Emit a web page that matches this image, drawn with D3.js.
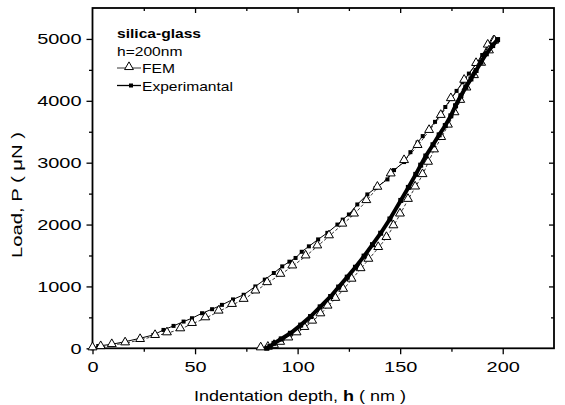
<!DOCTYPE html>
<html>
<head>
<meta charset="utf-8">
<script src="https://cdn.jsdelivr.net/npm/d3@7"></script>
<style>
  body { margin: 0; background: #fff; }
  svg text { font-family: "Liberation Sans", Arial, sans-serif; fill: #000; }
</style>
</head>
<body>
<div id="chart"></div>
<script>
// experimental loading branch (h in nm, P in uN)
var expLoadH = [0, 2.8, 9.4, 15.9, 23.2, 29.7, 34.6, 39.5, 44.4, 48.5, 53.4, 58.3, 63.1, 68.5, 73.7, 79.4, 84, 88.4, 92.5, 96, 99, 102, 105.5, 110, 114.5, 119.4, 122, 125, 129.1, 134, 138, 143.8, 147, 151.9, 155, 158.5, 161, 164.1, 167, 169.8, 172, 174.7, 177.5, 180.4, 183.5, 187, 190, 192.7, 196];
var expLoadP = [0, 37, 65, 107, 162, 216, 297, 362, 432, 486, 567, 632, 702, 790, 865, 1000, 1110, 1217, 1324, 1400, 1460, 1560, 1648, 1760, 1866, 2000, 2080, 2163, 2325, 2487, 2590, 2730, 2880, 3010, 3170, 3326, 3430, 3541, 3660, 3784, 3900, 4028, 4160, 4299, 4440, 4596, 4740, 4893, 4980];

// experimental unloading branch
var expUnloadH = [197.5, 195.1, 192, 189.4, 187, 184.5, 182, 179.6, 177, 174.7, 172, 169, 166, 162.5, 160, 157.6, 154, 150.3, 145, 140.5, 136.5, 132.4, 128.2, 124.2, 120, 116.1, 111, 106.3, 101.5, 96.5, 92, 88.5, 86.5, 85];
var expUnloadP = [4990, 4893, 4760, 4624, 4490, 4353, 4220, 4082, 3920, 3757, 3600, 3450, 3290, 3108, 2960, 2811, 2600, 2390, 2090, 1860, 1675, 1490, 1310, 1150, 990, 837, 670, 513, 375, 243, 150, 80, 30, 0];

// FEM loading branch
var femLoadH = [0, 4, 9.4, 15.9, 23.2, 30.5, 36.3, 42.8, 48.5, 55, 61.5, 68, 73.7, 79.4, 85.1, 91.6, 97.4, 103.9, 109.6, 115.3, 121.8, 127.5, 133.5, 138.9, 145.4, 151.9, 158.5, 164.1, 169.8, 174.7, 181.2, 187, 192.7, 195.5];
var femLoadP = [0, 20, 53, 81, 135, 200, 243, 308, 394, 486, 594, 702, 784, 919, 1054, 1189, 1324, 1486, 1648, 1811, 2000, 2163, 2380, 2596, 2811, 3027, 3271, 3514, 3757, 4028, 4325, 4596, 4893, 4960];

// FEM unloading branch
var femUnloadH = [196, 193.3, 189.5, 186, 182.3, 179.3, 176.5, 173.3, 170, 166.5, 163.6, 160.9, 157.3, 153.8, 149.9, 146.7, 143.3, 139.3, 134.5, 130.7, 126.3, 122.2, 118.4, 114.6, 111.1, 107.1, 103.3, 99.5, 95.5, 91.5, 88.5, 85.5, 82];
var femUnloadP = [4960, 4800, 4600, 4400, 4200, 4000, 3800, 3600, 3400, 3200, 3000, 2800, 2600, 2400, 2163, 1973, 1784, 1622, 1432, 1280, 1110, 946, 800, 675, 550, 432, 330, 243, 160, 90, 40, 10, 0];

var xMajor = [0, 50, 100, 150, 200];
var xMinor = [25, 75, 125, 175];
var yMajor = [0, 1000, 2000, 3000, 4000, 5000];
var yMinor = [500, 1500, 2500, 3500, 4500];

var legendTitle = ["silica-glass", "h=200nm"];
var legendNames = ["FEM", "Experimantal"];

var W = 565, H = 405;
var margin = {left: 92.5, right: 11, top: 8, bottom: 56.7};
var SX = 1.33; // scanned figure text is stretched horizontally

var svg = d3.select("#chart").append("svg")
    .attr("width", W)
    .attr("height", H);

var x = d3.scaleLinear().domain([0, 225]).range([margin.left, W - margin.right]);
var y = d3.scaleLinear().domain([0, 5500]).range([H - margin.bottom, margin.top]);

function zip(hs, ps) {
    return hs.map(function (h, i) { return [h, ps[i]]; });
}

function stretchTicks(g, xOff) {
    g.selectAll(".tick text").each(function () {
        var t = d3.select(this);
        if (xOff !== undefined) t.attr("x", xOff / SX);
        t.attr("transform", "scale(" + SX + ",1)");
    });
}

// axes
var gx = svg.append("g").attr("transform", "translate(0," + y(0) + ")")
    .call(d3.axisBottom(x).tickValues(xMajor).tickSize(6).tickPadding(7).tickFormat(d3.format("d")));
gx.selectAll("text").style("font-size", "15px");
stretchTicks(gx);
svg.append("g").attr("transform", "translate(0," + y(0) + ")")
    .call(d3.axisBottom(x).tickValues(xMinor).tickSize(3.5).tickFormat(""));

var gy = svg.append("g").attr("transform", "translate(" + x(0) + ",0)")
    .call(d3.axisLeft(y).tickValues(yMajor).tickSize(6).tickPadding(4).tickFormat(d3.format("d")));
gy.selectAll("text").style("font-size", "15px");
stretchTicks(gy, -11);
svg.append("g").attr("transform", "translate(" + x(0) + ",0)")
    .call(d3.axisLeft(y).tickValues(yMinor).tickSize(3.5).tickFormat(""));

// mirrored ticks on top and right, pointing inward
svg.append("g").attr("transform", "translate(0," + y(5500) + ")")
    .call(d3.axisTop(x).tickValues(xMajor.slice(1)).tickSize(-5).tickFormat(""));
svg.append("g").attr("transform", "translate(0," + y(5500) + ")")
    .call(d3.axisTop(x).tickValues(xMinor).tickSize(-3).tickFormat(""));
svg.append("g").attr("transform", "translate(" + x(225) + ",0)")
    .call(d3.axisRight(y).tickValues(yMajor.slice(1)).tickSize(-5).tickFormat(""));
svg.append("g").attr("transform", "translate(" + x(225) + ",0)")
    .call(d3.axisRight(y).tickValues(yMinor).tickSize(-3).tickFormat(""));

svg.selectAll(".domain").remove();
svg.selectAll(".tick line").attr("stroke", "#000").attr("stroke-width", 1.3);

svg.append("rect")
    .attr("x", x(0)).attr("y", y(5500))
    .attr("width", x(225) - x(0)).attr("height", y(0) - y(5500))
    .attr("fill", "none").attr("stroke", "#000").attr("stroke-width", 1.8);

// axis titles
var xt = svg.append("text")
    .attr("text-anchor", "middle")
    .attr("transform", "translate(" + 300 + ",401) scale(1.2,1)")
    .style("font-size", "15px");
xt.append("tspan").text("Indentation depth, ");
xt.append("tspan").style("font-weight", "bold").text("h");
xt.append("tspan").text(" ( nm )");

svg.append("text")
    .attr("text-anchor", "middle")
    .attr("transform", "translate(22,195) rotate(-90) scale(1.35,1)")
    .style("font-size", "15px")
    .text("Load, P ( \u03bcN )");

var line = d3.line().x(function (d) { return x(d[0]); }).y(function (d) { return y(d[1]); });
var tri = d3.symbol().type(d3.symbolTriangle).size(34);

function drawExp(data, lw, sq) {
    svg.append("path").datum(data)
        .attr("d", line).attr("fill", "none")
        .attr("stroke", "#000").attr("stroke-width", lw);
    svg.append("g").selectAll("rect").data(data).enter().append("rect")
        .attr("x", function (d) { return x(d[0]) - sq / 2; })
        .attr("y", function (d) { return y(d[1]) - sq / 2; })
        .attr("width", sq).attr("height", sq)
        .attr("fill", "#000");
}

function drawFem(data) {
    svg.append("path").datum(data)
        .attr("d", line).attr("fill", "none")
        .attr("stroke", "#000").attr("stroke-width", 0.8)
        .attr("stroke-dasharray", "3,2");
    svg.append("g").selectAll("path").data(data).enter().append("path")
        .attr("d", tri)
        .attr("transform", function (d) { return "translate(" + x(d[0]) + "," + (y(d[1]) - 1) + ")"; })
        .attr("fill", "#fff").attr("stroke", "#000").attr("stroke-width", 1);
}

drawExp(zip(expLoadH, expLoadP), 1, 4);
drawFem(zip(femLoadH, femLoadP));
drawFem(zip(femUnloadH, femUnloadP));
drawExp(zip(expUnloadH, expUnloadP), 4, 5);

// legend
var lx = 117, ly = 38, lstep = 17.5;
legendTitle.forEach(function (t, i) {
    svg.append("text")
        .attr("transform", "translate(" + lx + "," + (ly + i * lstep) + ") scale(1.2,1)")
        .style("font-size", "13px")
        .style("font-weight", i === 0 ? "bold" : "normal")
        .text(t);
});
var fy = ly + 2 * lstep - 5;
svg.append("line").attr("x1", lx).attr("x2", lx + 24).attr("y1", fy).attr("y2", fy)
    .attr("stroke", "#000").attr("stroke-width", 0.8);
svg.append("path").attr("d", tri)
    .attr("transform", "translate(" + (lx + 12) + "," + (fy - 1) + ")")
    .attr("fill", "#fff").attr("stroke", "#000");
var ey = ly + 3 * lstep - 5;
svg.append("line").attr("x1", lx).attr("x2", lx + 24).attr("y1", ey).attr("y2", ey)
    .attr("stroke", "#000").attr("stroke-width", 1.3);
svg.append("rect").attr("x", lx + 12).attr("y", ey - 2).attr("width", 4).attr("height", 4)
    .attr("fill", "#000");
legendNames.forEach(function (t, i) {
    svg.append("text")
        .attr("transform", "translate(" + (lx + 25) + "," + (ly + (i + 2) * lstep) + ") scale(1.2,1)")
        .style("font-size", "13px")
        .text(t);
});
</script>
</body>
</html>
